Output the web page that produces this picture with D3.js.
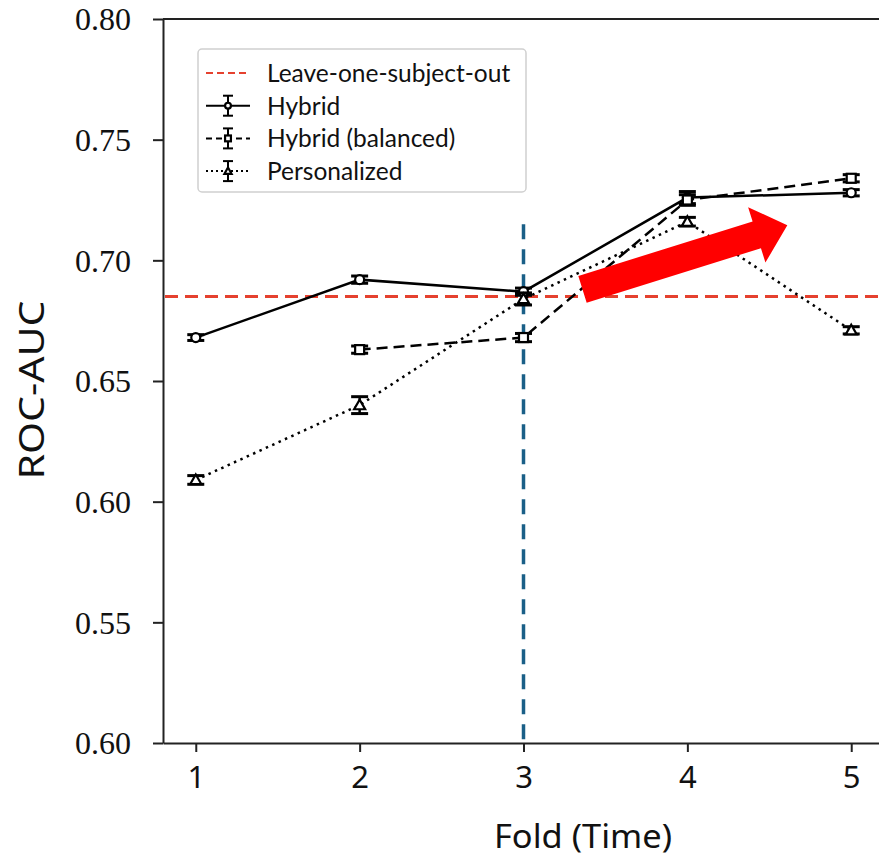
<!DOCTYPE html>
<html><head><meta charset="utf-8">
<script src="https://cdn.jsdelivr.net/npm/d3@7"></script>
<style>body{margin:0;background:#fff}</style>
</head><body>
<svg id="c" width="879" height="858"></svg>
<script>
// ---- data ----
const folds = [1, 2, 3, 4, 5];
const hybrid = [0.668, 0.692, 0.687, 0.726, 0.728];
const hybridErr = [0.0012, 0.0015, 0.0015, 0.0025, 0.0013];
const hybridBalanced = [null, 0.663, 0.668, 0.725, 0.734];
const hybridBalancedErr = [null, 0.0015, 0.0017, 0.0022, 0.0015];
const personalized = [0.609, 0.640, 0.684, 0.716, 0.671];
const personalizedErr = [0.0018, 0.0035, 0.0025, 0.0018, 0.0015];
const losoValue = 0.685;
const splitFold = 3;
const splitTop = 0.715;
const yTickValues = [0.50, 0.55, 0.60, 0.65, 0.70, 0.75, 0.80];
const yTickLabels = ["0.60", "0.55", "0.60", "0.65", "0.70", "0.75", "0.80"];
const xTickValues = [1, 2, 3, 4, 5];
const legendLabels = ["Leave-one-subject-out", "Hybrid", "Hybrid (balanced)", "Personalized"];
const arrowTail = [3.36, 0.688];
const arrowTip = [4.61, 0.7145];
const xTitle = "Fold (Time)";
const yTitle = "ROC-AUC";

// ---- layout ----
const svg = d3.select("#c");
const x = d3.scaleLinear().domain([0.8, 5.2]).range([163, 884]);
const y = d3.scaleLinear().domain([0.50, 0.80]).range([743, 19]);
const spine = "#222";

// axes
const yAxis = d3.axisLeft(y).tickValues(yTickValues)
  .tickFormat((d, i) => yTickLabels[i]).tickSize(10).tickSizeOuter(0).tickPadding(22);
const gy = svg.append("g").attr("transform", `translate(${x.range()[0]},0)`).call(yAxis);
gy.select(".domain").attr("stroke", spine).attr("stroke-width", 2);
gy.selectAll(".tick line").attr("stroke", spine).attr("stroke-width", 2);
gy.selectAll(".tick text").attr("font-family", "'Liberation Serif', serif")
  .attr("font-size", 32).attr("fill", "#111").attr("dy", "0.34em");

const xAxis = d3.axisBottom(x).tickValues(xTickValues).tickFormat(d3.format("d"))
  .tickSize(9).tickSizeOuter(0).tickPadding(14);
const gx = svg.append("g").attr("transform", `translate(0,${y.range()[0]})`).call(xAxis);
gx.select(".domain").attr("stroke", spine).attr("stroke-width", 2);
gx.selectAll(".tick line").attr("stroke", spine).attr("stroke-width", 2);
gx.selectAll(".tick text").attr("font-family", "'Noto Sans', sans-serif")
  .attr("font-size", 31).attr("fill", "#111").attr("dy", "0.71em");

// top spine
svg.append("line").attr("x1", x.range()[0]).attr("x2", x.range()[1])
  .attr("y1", y.range()[1]).attr("y2", y.range()[1]).attr("stroke", spine).attr("stroke-width", 2);

// titles
svg.append("text").attr("x", 583).attr("y", 848).attr("text-anchor", "middle")
  .attr("font-family", "'Noto Sans', sans-serif").attr("font-size", 33).attr("fill", "#111")
  .attr("textLength", 178).attr("lengthAdjust", "spacingAndGlyphs").text(xTitle);
svg.append("text").attr("transform", "translate(44,390) rotate(-90)").attr("text-anchor", "middle")
  .attr("font-family", "'Noto Sans', sans-serif").attr("font-size", 34).attr("fill", "#111")
  .attr("textLength", 179).attr("lengthAdjust", "spacingAndGlyphs").text(yTitle);

// reference lines
svg.append("line").attr("x1", x.range()[0] + 2).attr("x2", x.range()[1])
  .attr("y1", y(losoValue)).attr("y2", y(losoValue))
  .attr("stroke", "#e5412f").attr("stroke-width", 3).attr("stroke-dasharray", "13,7");

// series
const series = [
  {vals: hybrid, err: hybridErr, dash: null, marker: "circle"},
  {vals: hybridBalanced, err: hybridBalancedErr, dash: "11,6", marker: "square"},
  {vals: personalized, err: personalizedErr, dash: "2.5,4.5", marker: "triangle"}
];
const line = d3.line().defined(d => d[1] != null).x(d => x(d[0])).y(d => y(d[1]));

function drawMarker(g, type, cx, cy, scale) {
  const s = scale || 1;
  if (type === "circle") {
    g.append("circle").attr("cx", cx).attr("cy", cy).attr("r", 4.5 * s)
      .attr("fill", "#fff").attr("stroke", "#000").attr("stroke-width", 2.2);
  } else if (type === "square") {
    g.append("rect").attr("x", cx - 4.5 * s).attr("y", cy - 4.5 * s).attr("width", 9 * s).attr("height", 9 * s)
      .attr("fill", "#fff").attr("stroke", "#000").attr("stroke-width", 2.2);
  } else {
    const r = 5.5 * s;
    g.append("path").attr("d", `M${cx},${cy - r}L${cx + r},${cy + r * 0.75}L${cx - r},${cy + r * 0.75}Z`)
      .attr("fill", "#fff").attr("stroke", "#000").attr("stroke-width", 2.2);
  }
}

series.forEach(s => {
  const pts = folds.map((f, i) => [f, s.vals[i]]);
  svg.append("path").datum(pts).attr("d", line).attr("fill", "none")
    .attr("stroke", "#000").attr("stroke-width", 2.5)
    .attr("stroke-dasharray", s.dash);
});

// split line (drawn over series lines)
svg.append("line").attr("x1", x(splitFold)).attr("x2", x(splitFold))
  .attr("y1", y(splitTop)).attr("y2", y(0.50))
  .attr("stroke", "#1a5f87").attr("stroke-width", 3.5).attr("stroke-dasharray", "15,10");

series.forEach(s => {
  const g = svg.append("g");
  folds.forEach((f, i) => {
    if (s.vals[i] == null) return;
    const cx = x(f), y0 = y(s.vals[i] - s.err[i]), y1 = y(s.vals[i] + s.err[i]);
    g.append("line").attr("x1", cx).attr("x2", cx).attr("y1", y0).attr("y2", y1)
      .attr("stroke", "#000").attr("stroke-width", 2.5);
    [y0, y1].forEach(yy => g.append("line").attr("x1", cx - 8.5).attr("x2", cx + 8.5)
      .attr("y1", yy).attr("y2", yy).attr("stroke", "#000").attr("stroke-width", 3));
    drawMarker(g, s.marker, cx, y(s.vals[i]));
  });
});

// red arrow annotation
(function () {
  const tx = x(arrowTail[0]), ty = y(arrowTail[1]);
  const hx = x(arrowTip[0]), hy = y(arrowTip[1]);
  const len = Math.hypot(hx - tx, hy - ty);
  const ang = Math.atan2(hy - ty, hx - tx) * 180 / Math.PI;
  const bw = 14, hw = 29, hl = 32;
  const pts = [[0, -bw], [len - hl, -bw], [len - hl, -hw], [len, 0], [len - hl, hw], [len - hl, bw], [0, bw]];
  svg.append("path").attr("d", "M" + pts.map(p => p.join(",")).join("L") + "Z")
    .attr("transform", `translate(${tx},${ty}) rotate(${ang})`)
    .attr("fill", "#ff0000");
})();

// legend
const lg = svg.append("g");
lg.append("rect").attr("x", 198).attr("y", 49).attr("width", 328).attr("height", 143)
  .attr("rx", 4).attr("fill", "#fff").attr("fill-opacity", 0.85)
  .attr("stroke", "#d0d0d0").attr("stroke-width", 1.5);
legendLabels.forEach((lab, i) => {
  const cy = 73 + i * 32.7;
  if (i === 0) {
    lg.append("line").attr("x1", 206).attr("x2", 250).attr("y1", cy).attr("y2", cy)
      .attr("stroke", "#e5412f").attr("stroke-width", 2).attr("stroke-dasharray", "7,4");
  } else {
    const s = series[i - 1];
    lg.append("line").attr("x1", 206).attr("x2", 250).attr("y1", cy).attr("y2", cy)
      .attr("stroke", "#000").attr("stroke-width", 2)
      .attr("stroke-dasharray", s.dash ? (i === 2 ? "6,4" : "2,3") : null);
    lg.append("line").attr("x1", 228).attr("x2", 228).attr("y1", cy - 10).attr("y2", cy + 10)
      .attr("stroke", "#000").attr("stroke-width", 2);
    [cy - 10, cy + 10].forEach(yy => lg.append("line").attr("x1", 223).attr("x2", 233)
      .attr("y1", yy).attr("y2", yy).attr("stroke", "#000").attr("stroke-width", 2));
    drawMarker(lg, s.marker, 228, cy, 0.65);
  }
  lg.append("text").attr("x", 267).attr("y", cy).attr("dy", "0.36em")
    .attr("font-family", "Lato, sans-serif").attr("font-size", 24.5).attr("fill", "#111").text(lab);
});
</script>
</body></html>
